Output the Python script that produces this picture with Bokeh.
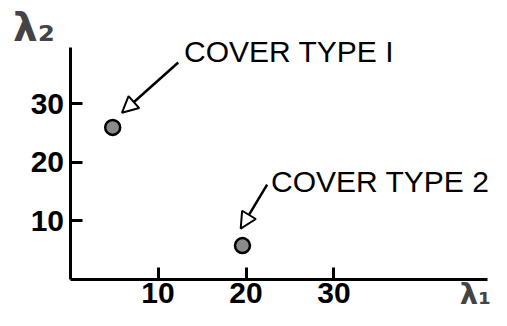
from bokeh.plotting import figure
from bokeh.models import Range1d, FixedTicker, Arrow, NormalHead, Label, ColumnDataSource
from bokeh.embed import file_html
from bokeh.resources import INLINE

# ---- data ----
cover_types = ["COVER TYPE I", "COVER TYPE 2"]
lambda1 = [4.85, 19.6]
lambda2 = [26.0, 5.8]
x_ticks = [10, 20, 30]
y_ticks = [10, 20, 30]
x_tick_labels = ["10", "20", "30"]
y_tick_labels = ["10", "20", "30"]
x_axis_label = "λ₁"
y_axis_label = "λ₂"
# annotation anchors (data units; text anchored at its vertical middle)
arrow_tail_x = [12.3, 22.4]
arrow_tail_y = [37.1, 16.2]
arrow_tip_x = [5.9, 19.4]
arrow_tip_y = [28.5, 8.7]
label_x = [12.95, 22.84]
label_y = [38.9, 16.67]

p = figure(width=491, height=310,
           x_range=Range1d(-7.9, 47.9), y_range=Range1d(-5.3, 47.69),
           output_backend="svg", toolbar_location=None,
           min_border_left=0, min_border_right=0,
           min_border_top=0, min_border_bottom=0)
p.outline_line_color = None
p.xgrid.visible = False
p.ygrid.visible = False
p.background_fill_color = "white"
p.border_fill_color = "white"

p.xaxis.fixed_location = 0
p.yaxis.fixed_location = 0
p.xaxis.bounds = (0, 47.5)
p.yaxis.bounds = (0, 39.66)
p.xaxis.ticker = FixedTicker(ticks=x_ticks)
p.yaxis.ticker = FixedTicker(ticks=y_ticks)
p.xaxis.major_label_overrides = {t: s for t, s in zip(x_ticks, x_tick_labels)}
p.yaxis.major_label_overrides = {t: s for t, s in zip(y_ticks, y_tick_labels)}
for ax in (p.xaxis, p.yaxis):
    ax.axis_line_width = 3
    ax.axis_line_color = "black"
    ax.major_tick_line_width = 3
    ax.major_tick_line_color = "black"
    ax.major_tick_in = 12
    ax.major_tick_out = 0
    ax.minor_tick_line_color = None
    ax.major_label_text_font = "Liberation Sans"
    ax.major_label_text_font_style = "bold"
    ax.major_label_text_font_size = "30px"
    ax.major_label_text_color = "black"
p.xaxis.major_label_standoff = 4
p.yaxis.major_label_standoff = 6

src = ColumnDataSource(dict(l1=lambda1, l2=lambda2, name=cover_types))
p.scatter(x="l1", y="l2", source=src, marker="circle", size=15,
          fill_color="#8a8a8a", line_color="black", line_width=2.5)

for i in range(len(cover_types)):
    p.add_layout(Arrow(end=NormalHead(size=16, fill_color="white",
                                      line_color="black", line_width=2),
                       x_start=arrow_tail_x[i], y_start=arrow_tail_y[i],
                       x_end=arrow_tip_x[i], y_end=arrow_tip_y[i],
                       line_width=2.5, line_color="black"))
    p.add_layout(Label(x=label_x[i], y=label_y[i], text=cover_types[i],
                       text_font="Liberation Sans", text_font_size="30px",
                       text_color="black", text_baseline="middle",
                       text_align="left"))

p.add_layout(Label(x=-6.48, y=43.16, text=y_axis_label, text_font="DejaVu Sans",
                   text_font_style="bold", text_font_size="39px",
                   text_baseline="middle", text_align="left"))
p.add_layout(Label(x=44.3, y=-2.4, text=x_axis_label, text_font="DejaVu Sans",
                   text_font_style="bold", text_font_size="29px",
                   text_baseline="middle", text_align="left"))

open("out.html", "w").write(file_html(p, INLINE))
